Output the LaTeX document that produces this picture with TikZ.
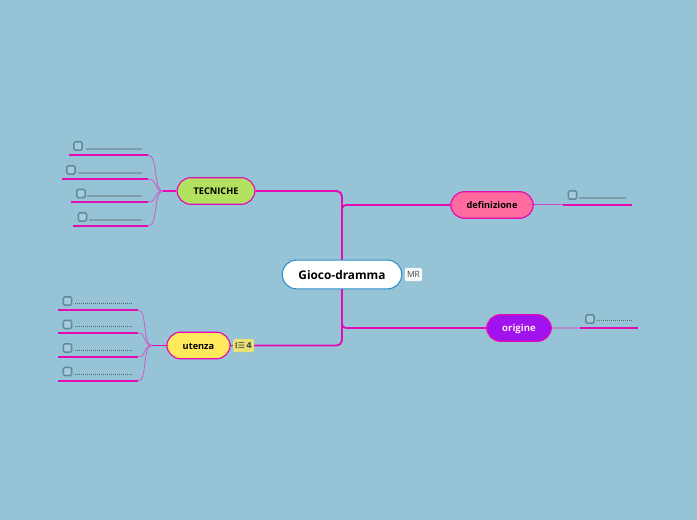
\documentclass[tikz,border=0pt]{standalone}
\usepackage{fontspec}
\setmainfont{Open Sans}
\usetikzlibrary{calc}
\definecolor{bgc}{HTML}{96C3D5}
\definecolor{mag}{HTML}{E30CB5}
\definecolor{thinl}{HTML}{CB5CC8}
\definecolor{chk}{HTML}{5F8A9B}
\definecolor{dots}{HTML}{4F6975}
\definecolor{dotl}{HTML}{7E9EAB}
\definecolor{cgreen}{HTML}{B2E15F}
\definecolor{cpink}{HTML}{FF6B9E}
\definecolor{cpurple}{HTML}{A012EE}
\definecolor{cyel}{HTML}{FFEA5C}
\definecolor{cblue}{HTML}{2E90CC}
\tikzset{
 topic/.style={draw=mag,line width=.9pt,rounded corners=10.5pt,inner sep=0pt,text height=5.6pt,text depth=0pt,font=\bfseries\fontsize{6.9}{8}\selectfont,text=black},
 mainlink/.style={draw=mag,line width=1.4pt,rounded corners=4pt},
 sublink/.style={draw=thinl,line width=.6pt},
 uline/.style={draw=mag,line width=1.4pt},
 stem/.style={draw=mag,line width=1pt},
 chkbox/.style={draw=chk,line width=1pt,fill=bgc!85!white,rounded corners=1pt,minimum size=6.2pt,inner sep=0pt},
 dotline/.style={draw=dotl,line width=1pt},
 dotfine/.style={draw=dots,line width=.75pt,dash pattern=on .75pt off .75pt},
 badge/.style={rounded corners=1.5pt,inner sep=0pt,font=\bfseries\fontsize{6}{7}\selectfont}
}
\begin{document}
\begin{tikzpicture}[x=.75pt,y=-.75pt]
\useasboundingbox[fill=bgc] (0,0) rectangle (697,520);
% main links
\coordinate (trunkT) at (342,191);
\coordinate (trunkC) at (342,274.5);
\coordinate (trunkU) at (342,345.5);
\node[topic,text height=5pt,fill=cgreen,minimum width=58.5pt,minimum height=20pt] (tec) at (216,191) {TECNICHE};
\node[topic,fill=cpink,minimum width=62pt,minimum height=20pt] (def) at (492,205) {definizione};
\node[topic,fill=cpurple,text=white!85!cpink,minimum width=48.5pt,minimum height=20pt,font=\bfseries\fontsize{7.2}{8}\selectfont] (ori) at (519,328) {origine};
\node[topic,fill=cyel,minimum width=47.5pt,minimum height=20pt] (ute) at (198.5,345.5) {utenza};
\node[badge,fill=cyel!80!bgc,text=black!75,minimum width=15.5pt,minimum height=10pt] (cnt) at (243.5,345.5) {\fontspec{DejaVu Sans}\fontsize{6}{7}\selectfont ⁝☰\,4};
\draw[mainlink] (tec.east) -- (trunkT) -- (trunkC);
\draw[mainlink] (trunkC) -- (trunkU) -- (cnt.east);
\draw[mainlink,rounded corners=3pt] (def.west) -- (342,205) -- (342,216);
\draw[mainlink,rounded corners=3pt] (ori.west) -- (342,328) -- (342,317);
\draw[stem] (cnt.west) -- (ute.east);
\node[draw=cblue,line width=.8pt,fill=white,rounded corners=10.5pt,minimum width=89.5pt,minimum height=21.5pt,inner sep=0pt,text depth=0pt,font=\bfseries\fontsize{8.9}{10}\selectfont] (ctr) at (342,274.5) {Gioco-dramma};
\node[badge,fill=white!90!bgc,text=black!70,minimum width=13pt,minimum height=10pt,font=\fontsize{6.4}{7}\selectfont] (mr) at (413.5,274.5) {MR};
% TECNICHE leaves
\coordinate (jt) at (163,191);
\draw[stem] (tec.west) -- (jt);
\foreach \n/\xa/\y/\cx/\cy/\dx in {a/69/155/78/146/86, b/62/179/71/170/78, c/71/202/81/193.5/87, d/73/226/82.5/217/89}{
  \coordinate (tl\n) at (\xa,\y);
  \coordinate (tr\n) at (148,\y);
  \draw[uline] (tl\n) -- (tr\n);
  \draw[sublink] (tr\n) .. controls ($(tr\n)!.7!(tr\n-|jt)$) and ($(jt)+(-10,0)$) .. (jt);
  \node[chkbox] (tb\n) at (\cx,\cy) {};
  \coordinate (ts\n) at (\dx,\y-6);
  \coordinate (te\n) at (142,\y-6);
  \draw[dotline] (ts\n) -- (te\n);
}
% utenza leaves
\coordinate (ju) at (152,345.5);
\draw[stem] (ute.west) -- (ju);
\foreach \n/\y/\cy in {a/310/301, b/333/324.5, c/357/348, d/381/371.5}{
  \coordinate (ul\n) at (58,\y);
  \coordinate (ur\n) at (138,\y);
  \draw[uline] (ul\n) -- (ur\n);
  \draw[sublink] (ur\n) .. controls ($(ur\n)!.7!(ur\n-|ju)$) and ($(ju)+(-10,0)$) .. (ju);
  \node[chkbox] (ub\n) at (67.5,\cy) {};
  \coordinate (us\n) at (75,\y-6.5);
  \coordinate (ue\n) at (132,\y-6.5);
  \draw[dotfine] (us\n) -- (ue\n);
}
% definizione leaf
\coordinate (dl) at (563,205);
\coordinate (dr) at (632,205);
\coordinate (dj) at (563,204.5);
\draw[sublink,draw=thinl!70!mag,line width=.75pt] (def.east |- dj) -- (dj);
\draw[uline] (dl) -- (dr);
\node[chkbox] (db) at (572.5,195) {};
\coordinate (ds) at (579,198);
\coordinate (de) at (626,198);
\draw[dotline] (ds) -- (de);
% origine leaf
\coordinate (ol) at (580,328);
\coordinate (or) at (638,328);
\draw[draw=thinl!50!bgc,line width=.8pt] (ori.east) -- (ol);
\draw[uline] (ol) -- (or);
\node[chkbox] (ob) at (590,319) {};
\coordinate (os) at (597,321);
\coordinate (oe) at (633,321);
\draw[dotfine] (os) -- (oe);
\end{tikzpicture}
\end{document}
